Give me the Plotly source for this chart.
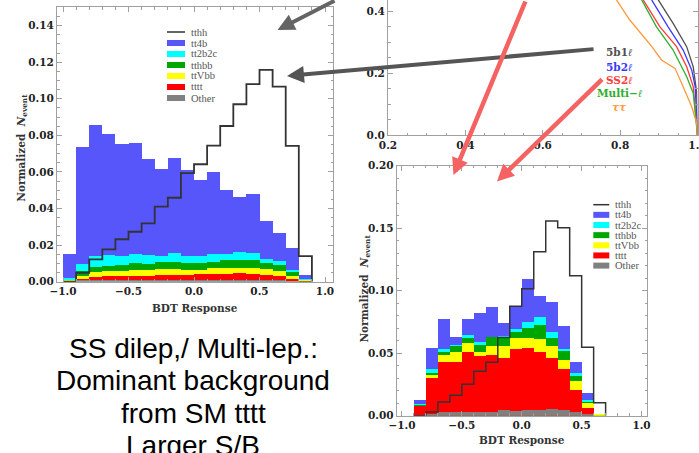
import plotly.graph_objects as go

W, H = 699, 453


def px(x):
    return x / W


def py(y):
    return 1 - y / H


# ---------------- data ----------------
# Left histogram (bins of width 0.1 from -1.0 to 0.9); stacked values are stack tops (cumulative)
left_centers = [-0.95, -0.85, -0.75, -0.65, -0.55, -0.45, -0.35, -0.25, -0.15, -0.05,
                0.05, 0.15, 0.25, 0.35, 0.45, 0.55, 0.65, 0.75, 0.85]
left_tt4b = [0.0151, 0.0733, 0.0855, 0.0804, 0.0753, 0.0758, 0.0669, 0.0616, 0.0675, 0.0611,
             0.0554, 0.0600, 0.0500, 0.0463, 0.0478, 0.0332, 0.0264, 0.0182, 0.0036]
left_tt2b2c = [0.0020, 0.0097, 0.0140, 0.0146, 0.0140, 0.0148, 0.0142, 0.0140, 0.0155, 0.0140,
               0.0140, 0.0151, 0.0151, 0.0159, 0.0155, 0.0122, 0.0110, 0.0064, 0.0015]
left_tthbb = [0.0010, 0.0055, 0.0077, 0.0086, 0.0091, 0.0100, 0.0097, 0.0104, 0.0104, 0.0100,
              0.0100, 0.0108, 0.0115, 0.0115, 0.0115, 0.0100, 0.0088, 0.0049, 0.0010]
left_ttVbb = [0.0005, 0.0030, 0.0049, 0.0055, 0.0055, 0.0060, 0.0060, 0.0067, 0.0067, 0.0064,
              0.0064, 0.0071, 0.0071, 0.0073, 0.0071, 0.0067, 0.0055, 0.0027, 0.0005]
left_tttt = [0.0002, 0.0013, 0.0024, 0.0027, 0.0027, 0.0030, 0.0032, 0.0035, 0.0035, 0.0037,
             0.0040, 0.0042, 0.0042, 0.0044, 0.0042, 0.0036, 0.0027, 0.0013, 0.0002]
left_other = [0.0001, 0.0003, 0.0004, 0.0004, 0.0004, 0.0004, 0.0004, 0.0004, 0.0004, 0.0004,
              0.0004, 0.0004, 0.0004, 0.0004, 0.0004, 0.0004, 0.0003, 0.0002, 0.0001]
left_tthh = [0.0, 0.0049, 0.0122, 0.0177, 0.0232, 0.0273, 0.0319, 0.0410, 0.0459, 0.0594,
             0.0642, 0.0744, 0.0851, 0.0970, 0.1080, 0.1158, 0.1066, 0.0742, 0.0140]

# Right histogram (bins of width 0.1 from -0.9 to 0.7); stack tops (cumulative)
right_centers = [-0.85, -0.75, -0.65, -0.55, -0.45, -0.35, -0.25, -0.15, -0.05,
                 0.05, 0.15, 0.25, 0.35, 0.45, 0.55, 0.65]
right_tt4b = [0.0128, 0.0547, 0.0776, 0.0635, 0.0779, 0.0824, 0.0875, 0.0742, 0.0878,
              0.1095, 0.0960, 0.0912, 0.0720, 0.0435, 0.0187, 0.0012]
right_tt2b2c = [0.0096, 0.0379, 0.0539, 0.0568, 0.0645, 0.0590, 0.0635, 0.0637, 0.0699,
                0.0755, 0.0790, 0.0675, 0.0540, 0.0342, 0.0130, 0.0012]
right_tthbb = [0.0090, 0.0344, 0.0510, 0.0558, 0.0624, 0.0565, 0.0632, 0.0632, 0.0672,
               0.0708, 0.0731, 0.0627, 0.0520, 0.0319, 0.0115, 0.0012]
right_ttVbb = [0.0083, 0.0330, 0.0487, 0.0510, 0.0584, 0.0512, 0.0563, 0.0562, 0.0622,
               0.0624, 0.0619, 0.0558, 0.0446, 0.0278, 0.0102, 0.0012]
right_tttt = [0.0078, 0.0304, 0.0436, 0.0436, 0.0514, 0.0483, 0.0485, 0.0463, 0.0539,
              0.0542, 0.0510, 0.0467, 0.0373, 0.0206, 0.0068, 0.0]
right_other = [0.0005, 0.0013, 0.0030, 0.0030, 0.0030, 0.0030, 0.0030, 0.0050, 0.0040,
               0.0050, 0.0045, 0.0060, 0.0050, 0.0030, 0.0014, 0.0]
right_tthh = [0.0, 0.0030, 0.0110, 0.0163, 0.0252, 0.0356, 0.0428, 0.0625, 0.0876,
              0.1016, 0.1312, 0.1557, 0.1504, 0.1120, 0.0547, 0.0104]

# ROC curves (partial view)
roc_5b1l_x = [0.885, 0.899, 0.937, 0.972, 0.989, 0.998, 1.0]
roc_5b1l_y = [0.48, 0.435, 0.360, 0.285, 0.220, 0.135, 0.0]
roc_5b2l_x = [0.868, 0.882, 0.924, 0.963, 0.985, 0.994, 1.0]
roc_5b2l_y = [0.48, 0.435, 0.349, 0.274, 0.210, 0.156, 0.0]
roc_ss2l_x = [0.845, 0.860, 0.903, 0.946, 0.972, 0.989, 1.0]
roc_ss2l_y = [0.48, 0.435, 0.349, 0.285, 0.220, 0.156, 0.0]
roc_multil_x = [0.840, 0.856, 0.894, 0.937, 0.972, 0.989, 1.0]
roc_multil_y = [0.48, 0.435, 0.349, 0.274, 0.188, 0.135, 0.0]
roc_tautau_x = [0.765, 0.791, 0.825, 0.882, 0.907, 0.942, 0.963, 0.985, 0.998, 1.0]
roc_tautau_y = [0.48, 0.435, 0.371, 0.285, 0.242, 0.215, 0.156, 0.091, 0.038, 0.0]

# ticks
hist_x_ticks = [-1.0, -0.5, 0.0, 0.5, 1.0]
hist_x_ticktext = ["\u22121.0", "\u22120.5", "0.0", "0.5", "1.0"]
left_y_ticks = [0.0, 0.02, 0.04, 0.06, 0.08, 0.10, 0.12, 0.14]
left_y_ticktext = ["0.00", "0.02", "0.04", "0.06", "0.08", "0.10", "0.12", "0.14"]
right_y_ticks = [0.0, 0.05, 0.10, 0.15, 0.20]
right_y_ticktext = ["0.00", "0.05", "0.10", "0.15", "0.20"]
roc_x_ticks = [0.2, 0.4, 0.6, 0.8, 1.0]
roc_x_ticktext = ["0.2", "0.4", "0.6", "0.8", "1.0"]
roc_y_ticks = [0.0, 0.2, 0.4]
roc_y_ticktext = ["0.0", "0.2", "0.4"]

legend_labels = ["tthh", "tt4b", "tt2b2c", "tthbb", "ttVbb", "tttt", "Other"]
roc_labels = ["5b1<i>\u2113</i>", "5b2<i>\u2113</i>", "SS2<i>\u2113</i>",
              "Multi\u2212<i>\u2113</i>", "<i>\u03c4\u03c4</i>"]
text_lines = ["SS dilep,/ Multi-lep.:", "Dominant background", "from SM tttt", "Larger S/B"]

# ---------------- styles ----------------
C_BLUE = "#5656fa"
C_CYAN = "#00ffff"
C_GREEN = "#00a600"
C_YELLOW = "#ffff00"
C_RED = "#ff0000"
C_GRAY = "#808080"
C_LINE = "#333333"
stack_colors = [C_BLUE, C_CYAN, C_GREEN, C_YELLOW, C_RED, C_GRAY]
legend_colors = [C_LINE, C_BLUE, C_CYAN, C_GREEN, C_YELLOW, C_RED, C_GRAY]
roc_colors = ["#505050", "#3a3aff", "#ff3a3a", "#2eb02e", "#ff9a3a"]

fig = go.Figure()


def add_hist(centers, stacks, tthh, xa, ya, lw):
    for vals, col in zip(stacks, stack_colors):
        fig.add_trace(go.Bar(x=centers, y=vals, width=0.1, xaxis=xa, yaxis=ya,
                             marker=dict(color=col, line=dict(width=0)),
                             showlegend=False, hoverinfo="skip"))
    lo = [c - 0.05 for c in centers]
    xs = [lo[0]] + lo + [centers[-1] + 0.05]
    ys = [0.0] + list(tthh) + [0.0]
    fig.add_trace(go.Scatter(x=xs, y=ys, mode="lines", line=dict(color=C_LINE, width=lw, shape="hv"),
                             xaxis=xa, yaxis=ya, showlegend=False, hoverinfo="skip"))


add_hist(left_centers, [left_tt4b, left_tt2b2c, left_tthbb, left_ttVbb, left_tttt, left_other],
         left_tthh, "x", "y", 1.8)
add_hist(right_centers, [right_tt4b, right_tt2b2c, right_tthbb, right_ttVbb, right_tttt, right_other],
         right_tthh, "x3", "y3", 1.5)

for (rx, ry), col in zip([(roc_5b1l_x, roc_5b1l_y), (roc_5b2l_x, roc_5b2l_y), (roc_ss2l_x, roc_ss2l_y),
                          (roc_multil_x, roc_multil_y), (roc_tautau_x, roc_tautau_y)], roc_colors):
    fig.add_trace(go.Scatter(x=rx, y=ry, mode="lines", line=dict(color=col, width=1.3),
                             xaxis="x2", yaxis="y2", showlegend=False, hoverinfo="skip"))

FRAME = "#a0a0a0"
tickfont = dict(family="DejaVu Serif", size=10.5, weight="bold", color="#222222")


def ax(domain, rng, tv, tt, minor_dtick, anchor, mirror="ticks"):
    return dict(domain=domain, range=rng, tickmode="array", tickvals=tv, ticktext=tt,
                showline=True, linecolor=FRAME, linewidth=1, mirror=mirror,
                ticks="inside", ticklen=5, tickwidth=1, tickcolor=FRAME,
                minor=dict(tickmode="linear", tick0=0, dtick=minor_dtick, ticks="inside",
                           ticklen=2.5, tickwidth=1, tickcolor=FRAME),
                showgrid=False, zeroline=False, tickfont=tickfont, anchor=anchor,
                fixedrange=True, automargin=False, ticklabeloverflow="allow")


fig.update_layout(
    width=W, height=H, autosize=False,
    margin=dict(l=0, r=0, t=0, b=0, pad=0),
    paper_bgcolor="white", plot_bgcolor="white",
    barmode="overlay", bargap=0, showlegend=False,
    xaxis=ax([px(57), px(333)], [-1.046, 1.061], hist_x_ticks, hist_x_ticktext, 0.1, "y"),
    yaxis=ax([py(281.7), py(7.3)], [0, 0.15], left_y_ticks, left_y_ticktext, 0.005, "x"),
    xaxis2=ax([px(388), px(697.5)], [0.2, 1.0], roc_x_ticks, roc_x_ticktext, 0.05, "y2", mirror=False),
    yaxis2=ax([py(135), 1.0], [0, 135 / 310], roc_y_ticks, roc_y_ticktext, 0.05, "x2"),
    xaxis3=ax([px(396.7), px(647.3)], [-1.044, 1.048], hist_x_ticks, hist_x_ticktext, 0.1, "y3"),
    yaxis3=ax([py(415.7), py(165.7)], [0, 0.2], right_y_ticks, right_y_ticktext, 0.01, "x3"),
)

shapes = []
annotations = []


# manual legends
def add_legend(x0, x1, tx, y0, dy, sh):
    for i, (lab, col) in enumerate(zip(legend_labels, legend_colors)):
        yc = y0 + i * dy
        if i == 0:
            shapes.append(dict(type="line", xref="paper", yref="paper", x0=px(x0), x1=px(x1),
                               y0=py(yc), y1=py(yc), line=dict(color=col, width=1.5)))
        else:
            shapes.append(dict(type="rect", xref="paper", yref="paper", x0=px(x0), x1=px(x1),
                               y0=py(yc + sh / 2), y1=py(yc - sh / 2), fillcolor=col,
                               line=dict(width=0)))
        annotations.append(dict(text=lab, xref="paper", yref="paper", x=px(tx), y=py(yc),
                                xanchor="left", yanchor="middle", showarrow=False,
                                font=dict(family="Liberation Serif", size=10.5, color="#555555")))


add_legend(167, 185, 188.5, 32, 11.0, 6)
add_legend(593.3, 609.3, 612.5, 204.7, 10.15, 6)

# axis titles
title_font = dict(family="DejaVu Serif", size=10.5, weight="bold", color="#333333")
ylab = "Normalized  <i>N</i><sub>event</sub>"
annotations += [
    dict(text="BDT Response", xref="paper", yref="paper", x=px(195), y=py(308),
         showarrow=False, font=title_font, xanchor="center", yanchor="middle"),
    dict(text="BDT Response", xref="paper", yref="paper", x=px(521.7), y=py(440),
         showarrow=False, font=title_font, xanchor="center", yanchor="middle"),
    dict(text=ylab, xref="paper", yref="paper", x=px(21.7), y=py(148), textangle=-90,
         showarrow=False, font=title_font, xanchor="center", yanchor="middle"),
    dict(text=ylab, xref="paper", yref="paper", x=px(364.5), y=py(289), textangle=-90,
         showarrow=False, font=title_font, xanchor="center", yanchor="middle"),
]

# ROC labels
for i, (lab, col) in enumerate(zip(roc_labels, roc_colors)):
    yc = [51.7, 66.7, 80.0, 92.6, 107.3][i]
    annotations.append(dict(text=lab, xref="paper", yref="paper", x=px(619), y=py(yc),
                            showarrow=False, xanchor="center", yanchor="middle",
                            font=dict(family="DejaVu Serif", size=10.5, weight="bold", color=col)))

# big slide text
for i, line in enumerate(text_lines):
    yc = [348.3, 380.5, 413.3, 445.8][i]
    annotations.append(dict(text=line, xref="paper", yref="paper", x=px(193), y=py(yc),
                            showarrow=False, xanchor="center", yanchor="middle",
                            font=dict(family="Liberation Sans", size=28, color="black")))


# arrows (tip, tail in pixels)
def arrow(tip, tail, color, width, size):
    annotations.append(dict(text="", xref="paper", yref="paper", x=px(tip[0]), y=py(tip[1]),
                            ax=tail[0] - tip[0], ay=tail[1] - tip[1], axref="pixel", ayref="pixel",
                            showarrow=True, arrowhead=2, arrowsize=size, arrowwidth=width,
                            arrowcolor=color, standoff=0, startstandoff=0))


arrow((277.5, 30), (336, -2), "#646464", 4, 0.85)
arrow((287, 76), (595, 49), "#555555", 4, 0.85)
arrow((453.5, 175), (526, -2), "#f56262", 4.5, 0.75)
arrow((497, 181.5), (603.5, 78), "#f56262", 4.5, 0.75)

fig.update_layout(shapes=shapes, annotations=annotations)
fig.write_html("out.html", config={"displayModeBar": False},
               post_script="document.body.style.margin='0';document.body.style.overflow='hidden';")
